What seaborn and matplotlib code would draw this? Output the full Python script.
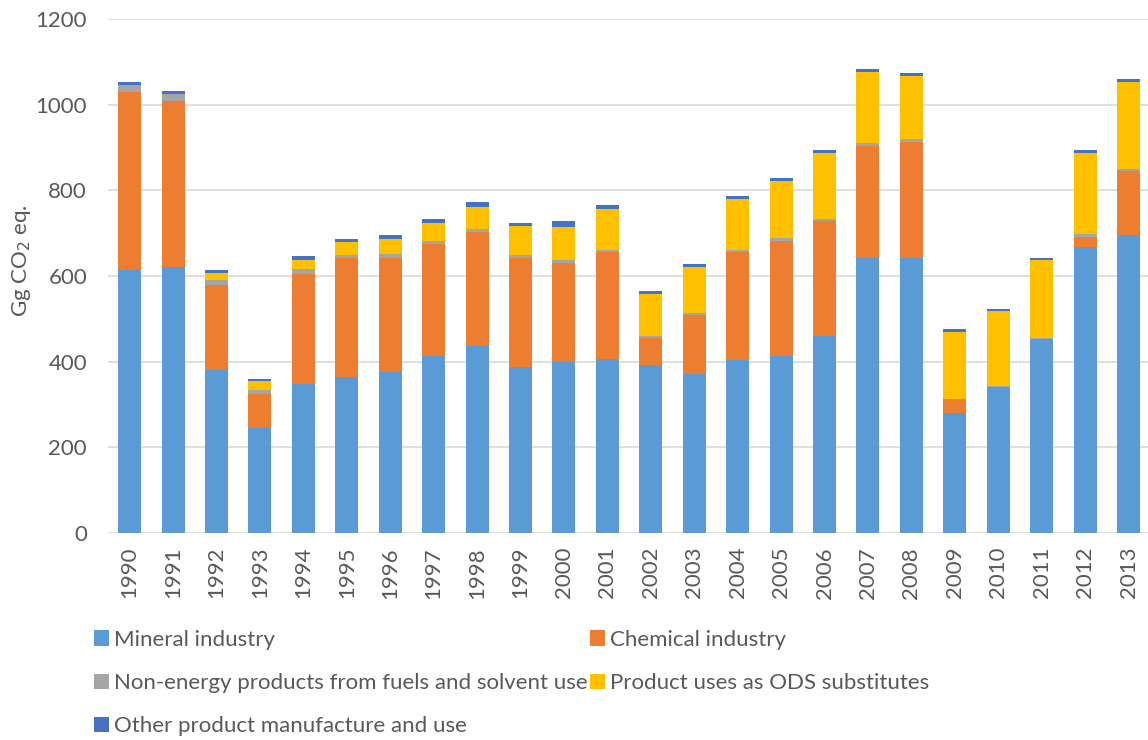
import numpy as np
import pandas as pd
import matplotlib
matplotlib.use("Agg")
import matplotlib.pyplot as plt
from matplotlib.patches import Patch
import seaborn as sns

years = [str(y) for y in range(1990, 2014)]

mineral = [614, 620, 380, 246, 347, 365, 377, 414, 437, 387, 400, 406,
           392, 371, 404, 413, 461, 643, 643, 281, 340, 454, 667, 695]
chemical = [416, 389, 198, 78, 258, 278, 266, 262, 267, 256, 231, 250,
            63, 138, 252, 269, 268, 261, 270, 31, 1, 0, 25, 151]
non_energy = [16, 16, 12, 9, 12, 6, 9, 6, 5, 7, 7, 5,
              5, 5, 6, 6, 4, 6, 6, 2, 2, 2, 6, 4]
ods = [0, 0, 18, 21, 20, 30, 35, 42, 52, 66, 77, 96,
       99, 106, 119, 135, 155, 167, 149, 156, 175, 181, 190, 204]
other = [7, 8, 6, 6, 9, 7, 10, 9, 11, 8, 13, 9,
         6, 8, 6, 6, 6, 6, 6, 6, 6, 6, 6, 6]

series_names = ["Mineral industry", "Chemical industry",
                "Non-energy products from fuels and solvent use",
                "Product uses as ODS substitutes",
                "Other product manufacture and use"]
series_values = [mineral, chemical, non_energy, ods, other]
series_colors = ["#5B9BD5", "#ED7D31", "#A5A5A5", "#FFC000", "#4472C4"]

y_ticks = [0, 200, 400, 600, 800, 1000, 1200]

sns.set_theme(style="white")
plt.rcParams["font.family"] = ["Lato", "DejaVu Sans"]
text_color = "#595959"

fig = plt.figure(figsize=(11.48, 7.4), dpi=100)
ax = fig.add_axes([0.094, 0.2797, 0.908, 0.6945])

# stacked bars: draw cumulative totals from the top layer down
cum = np.cumsum(np.array(series_values, dtype=float), axis=0)
for i in range(len(series_names) - 1, -1, -1):
    df = pd.DataFrame({"year": years, "value": cum[i]})
    sns.barplot(data=df, x="year", y="value", order=years, color=series_colors[i],
                saturation=1, width=0.53, linewidth=0, ax=ax, zorder=3)

ax.set_xlim(-0.5, len(years) - 0.5)
ax.set_ylim(0, 1200)
ax.set_yticks(y_ticks)
ax.set_yticklabels([str(t) for t in y_ticks])
ax.yaxis.grid(True, color="#D9D9D9", linewidth=1.2, zorder=0)
ax.set_axisbelow(True)
for s in ax.spines.values():
    s.set_visible(False)
ax.tick_params(axis="both", length=0, labelsize=16, colors=text_color)
ax.tick_params(axis="y", pad=15)
ax.tick_params(axis="x", pad=10)
plt.setp(ax.get_xticklabels(), rotation=90)
ax.set_xlabel("")
ax.set_ylabel("Gg CO$_2$ eq.", fontsize=16, color=text_color)
ax.yaxis.set_label_coords(-0.072, 0.53)

handles = [Patch(facecolor=c, edgecolor="none") for c in series_colors]
order = [0, 2, 4, 1, 3]
fig.legend([handles[k] for k in order], [series_names[k] for k in order],
           ncol=2, loc="upper left", bbox_to_anchor=(0.074, 0.161),
           frameon=False, fontsize=16, labelcolor=text_color,
           handlelength=0.7, handleheight=0.7, handletextpad=0.2,
           columnspacing=0.1, labelspacing=1.05, borderaxespad=0)

fig.savefig("out.png", dpi=100)
